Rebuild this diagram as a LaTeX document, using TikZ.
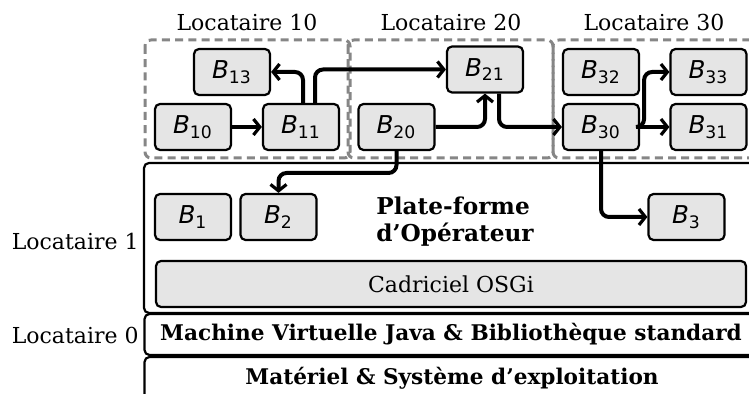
\documentclass[tikz,border=0pt]{standalone}
\usepackage{fontspec}
\setmainfont{DejaVu Serif}
\newfontfamily\bsans{DejaVu Sans}
\usetikzlibrary{arrows.meta}
\newcommand{\BB}[1]{{\itshape B}\textsubscript{#1}}
\tikzset{
  bx/.style={draw, fill=gray!20, rounded corners=2.5pt, line width=1.1pt,
    minimum width=38pt, minimum height=23pt, inner sep=0pt,
    font=\bsans\fontsize{12.3}{14}\selectfont},
  layer/.style={draw, rounded corners=2.5pt, line width=1.1pt, inner sep=0pt},
  tenant/.style={draw=gray!95, dashed, dash pattern=on 4pt off 2.6pt, line width=1.5pt, rounded corners=3pt},
  arr/.style={line width=2pt, rounded corners=4pt, -{Straight Barb[length=3.2pt,width=8pt,line width=1.6pt]}},
  lbl/.style={font=\fontsize{11}{13}\selectfont, inner sep=0pt}
}
\begin{document}
\begin{tikzpicture}[x=0.5pt,y=-0.5pt]
\useasboundingbox (0,0) rectangle (749,394);
\clip (0,0) rectangle (749,394);
% tenant dashed boxes
\draw[tenant] (145,40) rectangle (350,158);
\draw[tenant] (348,40) rectangle (553,158);
\draw[tenant] (553,40) rectangle (765,158);
\node[lbl] (L10) at (247,22) {Locataire 10};
\node[lbl] (L20) at (451,22) {Locataire 20};
\node[lbl] (L30) at (654,22) {Locataire 30};
% layers
\node[layer, minimum width=310pt, minimum height=75pt] (plat) at (454,238) {};
\node[layer, minimum width=311pt, minimum height=20.5pt] (jvm) at (455.5,334.5) {};
\node[lbl, font=\bfseries\fontsize{10.8}{12}\selectfont] (jvmt) at (451,334.5) {Machine Virtuelle Java \& Bibliothèque standard};
\node[layer, minimum width=311pt, minimum height=22pt] (hw) at (455.5,379) {};
\node[lbl, font=\bfseries\fontsize{10.8}{12}\selectfont] (hwt) at (452,378) {Matériel \& Système d’exploitation};
\node[bx, minimum width=295pt, font=\fontsize{11}{13}\selectfont] (osgi) at (451,284) {Cadriciel OSGi};
\node[lbl, anchor=east] (L1) at (139,241) {Locataire 1};
\node[lbl, anchor=east] (L0) at (139,335) {Locataire 0};
\node[lbl, align=left, anchor=west, font=\bfseries\fontsize{11.6}{13.5}\selectfont] (pf) at (376,222) {Plate-forme\\d’Opérateur};
% bundles
\node[bx] (B13) at (232,72) {\BB{13}};
\node[bx] (B10) at (193,127) {\BB{10}};
\node[bx] (B11) at (301,127) {\BB{11}};
\node[bx] (B21) at (485,69.5) {\BB{21}};
\node[bx] (B20) at (396.5,127) {\BB{20}};
\node[bx] (B32) at (601,72) {\BB{32}};
\node[bx] (B30) at (601,127) {\BB{30}};
\node[bx] (B33) at (708.5,72) {\BB{33}};
\node[bx] (B31) at (708.5,127) {\BB{31}};
\node[bx] (B1) at (193,217) {\BB{1}};
\node[bx] (B2) at (278.5,217) {\BB{2}};
\node[bx] (B3) at (686.5,217) {\BB{3}};
\coordinate (j) at (396,173);
% connectors
\draw[arr] (B10) -- (B11);
\draw[arr] ([xshift=1pt]B11.north) |- (B13.east);
\draw[arr] ([xshift=7pt]B11.north) |- (B21.west);
\draw[arr] (B20.east) -| (B21.south);
\draw[arr] ([xshift=7pt]B21.south) |- (B30.west);
\draw[arr] (B30.east) -- ++(4,0) |- (B33.west);
\draw[arr] (B30) -- (B31);
\draw[arr] (B20.south) -- (B20.south |- j) -| (B2.north);
\draw[arr] (B30.south) |- (B3.west);
\end{tikzpicture}
\end{document}
